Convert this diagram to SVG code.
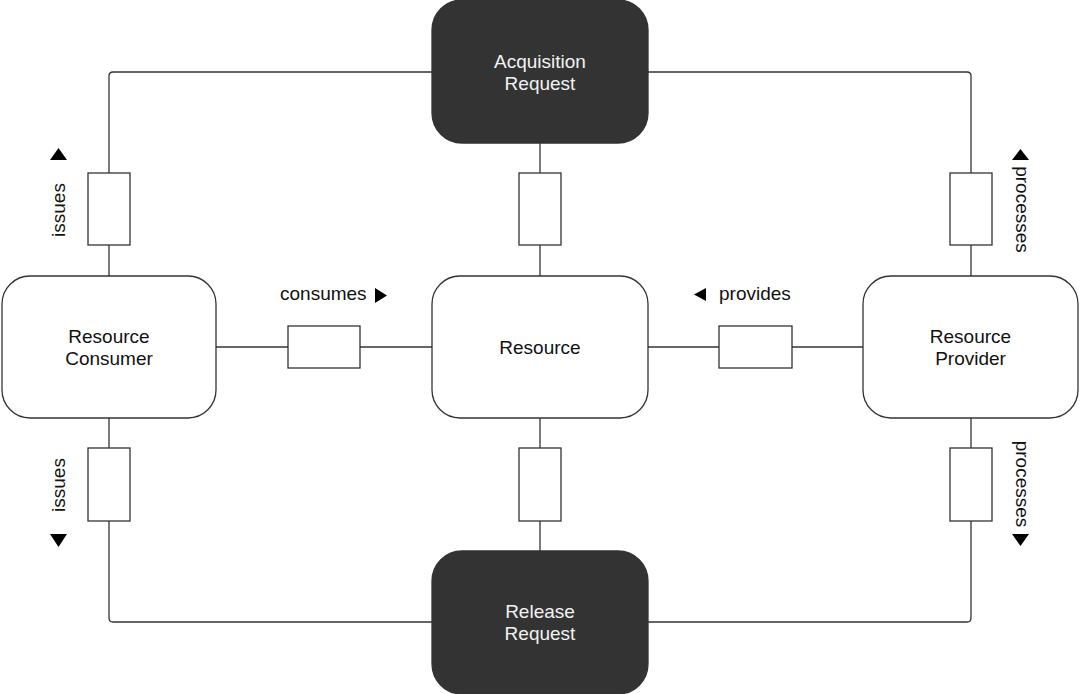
<svg xmlns="http://www.w3.org/2000/svg" width="1080" height="694" viewBox="0 0 1080 694">
<style>
.box{fill:#ffffff;stroke:#333333;stroke-width:1.3}
.dark{fill:#333333;stroke:#333333;stroke-width:1.3}
.ln{fill:none;stroke:#333333;stroke-width:1.3}
.port{fill:#ffffff;stroke:#333333;stroke-width:1.3}
.t{font-family:"Liberation Sans",Arial,sans-serif;font-size:19px;fill:#111111;text-anchor:middle}
.tw{font-family:"Liberation Sans",Arial,sans-serif;font-size:19px;fill:#f2f2f2;text-anchor:middle}
.lbl{font-family:"Liberation Sans",Arial,sans-serif;font-size:19px;fill:#111111}
.tri{fill:#000000}
</style>
<rect width="1080" height="694" fill="#ffffff"/>
<g id="connectors">
<path class="ln" d="M432,72 H113 Q109,72 109,76 V276"/>
<path class="ln" d="M648,72 H967 Q971,72 971,76 V276"/>
<path class="ln" d="M540,143 V276"/>
<path class="ln" d="M109,418 V618 Q109,622 113,622 H432"/>
<path class="ln" d="M971,418 V618 Q971,622 967,622 H648"/>
<path class="ln" d="M540,418 V551"/>
<path class="ln" d="M216,347 H432"/>
<path class="ln" d="M648,347 H863"/>
<rect class="port" x="88" y="173" width="42" height="72"/>
<rect class="port" x="519" y="173" width="42" height="72"/>
<rect class="port" x="950" y="173" width="42" height="72"/>
<rect class="port" x="88" y="448" width="42" height="73"/>
<rect class="port" x="519" y="448" width="42" height="73"/>
<rect class="port" x="950" y="448" width="42" height="73"/>
<rect class="port" x="288" y="326" width="72" height="42"/>
<rect class="port" x="719" y="326" width="73" height="42"/>
<text class="t" transform="translate(65,210) rotate(-90)">issues</text>
<polygon class="tri" points="50,160 67,160 58.5,148"/>
<text class="t" transform="translate(65,485) rotate(-90)">issues</text>
<polygon class="tri" points="50,534 67,534 58.5,547"/>
<text class="t" transform="translate(1016,209.5) rotate(90)">processes</text>
<polygon class="tri" points="1012,160 1029,160 1020.5,149"/>
<text class="t" transform="translate(1016,484) rotate(90)">processes</text>
<polygon class="tri" points="1012,534 1029,534 1020.5,546"/>
<text class="lbl" x="280" y="300">consumes</text>
<polygon class="tri" points="375,288 375,303 387,295.5"/>
<text class="lbl" x="719" y="300">provides</text>
<polygon class="tri" points="706,288 706,301 694,294.5"/>
</g>
<g id="acquisition-request">
<rect class="dark" x="432" y="0" width="216" height="143" rx="30"/>
<text class="tw" x="540" y="68">Acquisition</text>
<text class="tw" x="540" y="90">Request</text>
</g>
<g id="release-request">
<rect class="dark" x="432" y="551" width="216" height="143" rx="30"/>
<text class="tw" x="540" y="618">Release</text>
<text class="tw" x="540" y="640">Request</text>
</g>
<g id="resource-consumer">
<rect class="box" x="2" y="276" width="214" height="142" rx="28"/>
<text class="t" x="109" y="343">Resource</text>
<text class="t" x="109" y="365">Consumer</text>
</g>
<g id="resource">
<rect class="box" x="432" y="276" width="216" height="142" rx="28"/>
<text class="t" x="540" y="354">Resource</text>
</g>
<g id="resource-provider">
<rect class="box" x="863" y="276" width="215" height="142" rx="28"/>
<text class="t" x="970.5" y="343">Resource</text>
<text class="t" x="970.5" y="365">Provider</text>
</g>
</svg>
